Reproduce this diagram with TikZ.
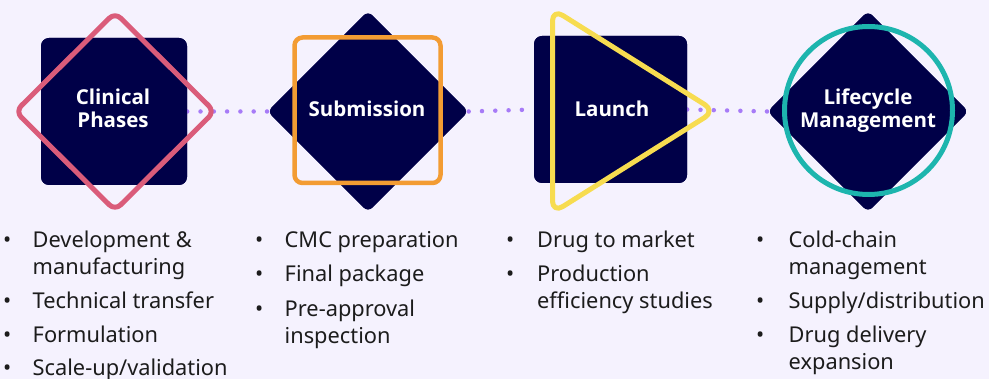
\documentclass[tikz,border=0pt]{standalone}
\usepackage{fontspec}
\setmainfont{Noto Sans}
\newfontfamily\titlefont{Open Sans}
\usetikzlibrary{shapes.geometric}
\definecolor{bg}{HTML}{F5F2FE}
\definecolor{navy}{HTML}{000048}
\definecolor{pinkc}{HTML}{DA5C7A}
\definecolor{orangec}{HTML}{F39C33}
\definecolor{yellowc}{HTML}{F7DC50}
\definecolor{tealc}{HTML}{1DB5AE}
\definecolor{dotc}{HTML}{A77BF7}
\definecolor{txt}{HTML}{1C1C1C}
\newcommand\twoln[2]{\vtop{\hbox{#1}\hbox{#2}}}
\begin{document}
\begin{tikzpicture}[x=1pt,y=-1pt,
  navysq/.style={rectangle, fill=navy, rounded corners=8pt, minimum width=146pt, minimum height=147pt, inner sep=0pt},
  navydm/.style={diamond, fill=navy, rounded corners=6pt, minimum width=201pt, minimum height=201pt, inner sep=0pt, aspect=1},
  titletext/.style={text=white, font=\titlefont\bfseries\fontsize{20.5}{23}\selectfont, align=center, inner sep=0pt},
  bul/.style={anchor=base west, inner sep=0pt, text=txt, font=\fontsize{21.8}{27}\selectfont},
  itemtext/.style={anchor=base west, inner sep=0pt, text=txt, font=\fontsize{21.8}{27}\selectfont},
  dotline/.style={dotc, line width=4.5pt, line cap=round, dash pattern=on 0pt off 13.3pt},
  outl/.style={line width=5pt, line join=round}]
\fill[bg] (0,0) rectangle (989,379);
\useasboundingbox (0,0) rectangle (989,379);

% navy shapes
\node[navysq] (n1) at (114,111.5) {};
\node[navydm] (n2) at (368,111.5) {};
\node[navysq, minimum width=153pt, minimum height=147pt] (n3) at (610.5,109.5) {};
\node[navydm] (n4) at (868,111.5) {};

% dotted connectors
\draw[dotline] (n1.east) -- (n2.west);
\draw[dotline] (n2.east) -- (n3.west);
\draw[dotline] (n3.east) -- (n4.west);

% redraw navy shapes over the dots
\node[navysq] at (n1) {};
\node[navydm] at (n2) {};
\node[navysq, minimum width=153pt, minimum height=147pt] at (n3) {};
\node[navydm] at (n4) {};

% outline shapes
\draw[outl, pinkc, rounded corners=8pt] (115,12.5) -- (214.5,111.5) -- (115,210.5) -- (15.5,111.5) -- cycle;
\draw[outl, orangec, line width=4.5pt, rounded corners=8pt] (294.5,37.5) rectangle (440.5,183);
\draw[outl, yellowc, rounded corners=12pt] (552.5,9) -- (715,111) -- (552.5,213) -- cycle;
\draw[outl, tealc] (868.5,110.5) circle (84);

% titles
\node[titletext] (t1) at (113,108.5) {Clinical\\Phases};
\node[titletext] (t2) at (367,109) {Submission};
\node[titletext] (t3) at (612,109) {Launch};
\node[titletext] (t4) at (868,111) {Lifecycle\\Management};

% column 1
\node[bul] (b11) at (3,248) {•};
\node[itemtext] (i11) at (32.5,248) {\twoln{Development \&}{manufacturing}};
\node[bul] (b12) at (3,308.5) {•};
\node[itemtext] (i12) at (32.5,308.5) {Technical transfer};
\node[bul] (b13) at (3,342.5) {•};
\node[itemtext] (i13) at (32.5,342.5) {Formulation};
\node[bul] (b14) at (3,376) {•};
\node[itemtext] (i14) at (32.5,376) {Scale-up/validation};

% column 2
\node[bul] (b21) at (255,248) {•};
\node[itemtext] (i21) at (284.5,248) {CMC preparation};
\node[bul] (b22) at (255,282) {•};
\node[itemtext] (i22) at (284.5,282) {Final package};
\node[bul] (b23) at (255,316.5) {•};
\node[itemtext] (i23) at (284.5,316.5) {\twoln{Pre-approval}{inspection}};

% column 3
\node[bul] (b31) at (506,248) {•};
\node[itemtext] (i31) at (537,248) {Drug to market};
\node[bul] (b32) at (506,282) {•};
\node[itemtext] (i32) at (537,282) {\twoln{Production}{efficiency studies}};

% column 4
\node[bul] (b41) at (756,248) {•};
\node[itemtext] (i41) at (788.5,248) {\twoln{Cold-chain}{management}};
\node[bul] (b42) at (756,308.5) {•};
\node[itemtext] (i42) at (788.5,308.5) {Supply/distribution};
\node[bul] (b43) at (756,342.5) {•};
\node[itemtext] (i43) at (788.5,342.5) {\twoln{Drug delivery}{expansion}};
\end{tikzpicture}
\end{document}
